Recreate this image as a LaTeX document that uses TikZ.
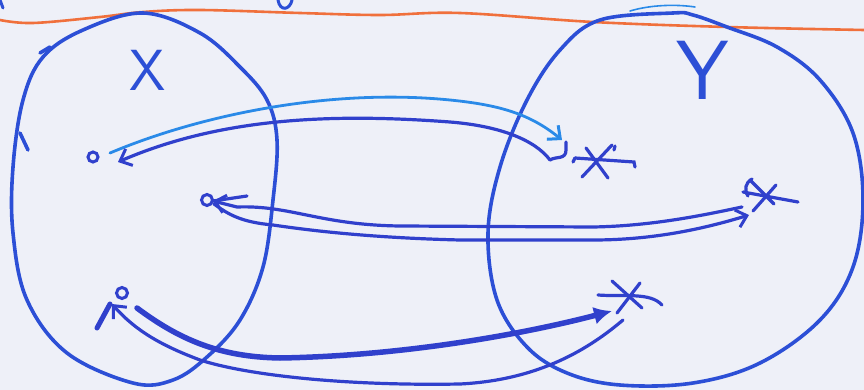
\documentclass[tikz,border=0pt]{standalone}
\usetikzlibrary{arrows.meta}
\definecolor{paper}{HTML}{EEF0F8}
\definecolor{pen}{HTML}{2C4FD6}
\definecolor{pendark}{HTML}{3040CC}
\definecolor{penlight}{HTML}{2A8AE8}
\definecolor{orangepen}{HTML}{F0703C}
\tikzset{
  blob/.style={draw=pen, line width=3.6pt, line cap=round, line join=round},
  dotnode/.style={circle, draw=pendark, line width=3pt, inner sep=0pt, minimum size=10pt},
  star/.style={draw=pendark, line width=3.2pt, line cap=round},
  conn/.style={draw=pendark, line width=3.2pt, line cap=round, line join=round},
  barb/.style={-{Straight Barb[length=10pt,width=18pt,line width=3pt]}},
  lbl/.style={text=pen, font=\sffamily, inner sep=0pt}
}
\begin{document}
\begin{tikzpicture}[x=1pt,y=-1pt]
\fill[paper] (0,0) rectangle (864,390);
\useasboundingbox (0,0) rectangle (864,390);

% orange rule
\draw[orangepen, line width=2.6pt, line cap=round] plot[smooth, tension=0.6] coordinates
  {(0,20) (33,23) (100,17) (143,12) (200,10) (300,13) (380,15) (460,13) (593,22) (727,27) (864,30)};

% cut-off fragments at the top
\draw[pen, line width=3pt, line cap=round] (0,0) -- (3,8);
\draw[pen, line width=3pt, line cap=round] (278,0) .. controls (280,12) and (290,10) .. (292,0);
\draw[penlight, line width=1.6pt, line cap=round] (630,11) .. controls (650,5) and (675,4) .. (695,7);

% set X
\draw[blob] plot[smooth cycle, tension=0.6] coordinates
  {(143,13) (83,30) (43,57) (23,100) (13,167) (13,233) (27,300) (67,353) (133,383) (173,380)
   (207,357) (240,320) (263,267) (273,200) (277,140) (267,100) (240,67) (200,33)};
\draw[blob] (40,53) -- (50,47);
\draw[blob] (20,133) -- (28,150);

% set Y
\draw[blob] plot[smooth cycle, tension=0.6] coordinates
  {(673,13) (600,20) (560,50) (527,100) (500,167) (488,233) (497,300) (527,347) (567,373)
   (620,385) (693,383) (760,363) (820,320) (853,267) (863,200) (853,133) (820,80) (777,47)
   (727,27) (693,15)};

% labels
\node[lbl, font=\sffamily\fontsize{58}{58}\selectfont] (lx) at (148,70) {X};
\node[lbl, font=\sffamily\fontsize{84}{84}\selectfont] (ly) at (703,70) {Y};

% points of X
\node[dotnode] (d1) at (93,157) {};
\node[dotnode, minimum size=11pt] (d2) at (207,200) {};
\node[dotnode, minimum size=11pt] (d3) at (122,293) {};

% points of Y (asterisks)
\coordinate (s1) at (598,160);
\draw[star] (575,158) -- (634,162) -- ++(1,5);
\draw[star] (582,177) -- (612,145);
\draw[star] (586,148) -- (608,178);
\draw[star] (615,146) -- (614,150);
\draw[star] (575,158) -- ++(-2,4);

\coordinate (s2) at (763,197);
\draw[star] (743,192) -- (798,202);
\draw[star] (750,180) -- (774,204);
\draw[star] (776,185) -- (753,211);
\draw[star] (752,179) .. controls (745,183) and (744,190) .. (748,196);

\coordinate (s3) at (628,297);
\draw[star] (598,295) .. controls (625,297) and (650,292) .. (662,305);
\draw[star] (612,281) -- (642,308);
\draw[star] (640,283) -- (617,313);

% connector anchors
\coordinate (a1s) at (110,153);
\coordinate (a1e) at (562,140);
\coordinate (b1s) at (550,160);
\coordinate (b1e) at (118,162);
\coordinate (c1s) at (742,207);
\coordinate (c1e) at (213,201);
\coordinate (c2s) at (214,204);
\coordinate (c2e) at (749,215);
\coordinate (e1s) at (137,308);
\coordinate (e1e) at (612,311);
\coordinate (e2s) at (623,320);
\coordinate (e2e) at (112,304);

% d1 <-> s1
\draw[conn, draw=penlight, line width=2.8pt, barb] (a1s)
  .. controls (200,115) and (330,88) .. (450,100)
  .. controls (500,105) and (530,114) .. (a1e);
\draw[conn, barb] (b1s)
  .. controls (535,140) and (500,126) .. (450,122)
  .. controls (330,113) and (220,118) .. (b1e);
\draw[star] (550,160) .. controls (556,156) and (566,160) .. (566,150) -- (566,142);

% d2 <-> s2
\draw[conn, barb] (c1s)
  .. controls (700,216) and (650,226) .. (593,227)
  -- (400,226)
  .. controls (320,225) and (290,205) .. (237,207)
  -- (c1e);
\draw[conn] (c1e) -- (247,196);
\draw[conn, barb] (c2s)
  .. controls (228,214) and (240,222) .. (273,225)
  .. controls (320,232) and (380,238) .. (460,240)
  -- (593,240)
  .. controls (650,240) and (700,230) .. (c2e);

% d3 <-> s3
\draw[conn, line width=5.5pt, -{Latex[length=18pt,width=18pt]}] (e1s)
  .. controls (180,340) and (220,357) .. (280,358)
  .. controls (400,356) and (520,335) .. (e1e);
\draw[conn, barb] (e2s)
  .. controls (590,348) and (540,380) .. (460,384)
  .. controls (350,386) and (250,376) .. (200,360)
  .. controls (160,345) and (135,330) .. (e2e);
\draw[conn, line width=5pt] (97,328) -- (110,304);
\end{tikzpicture}
\end{document}
